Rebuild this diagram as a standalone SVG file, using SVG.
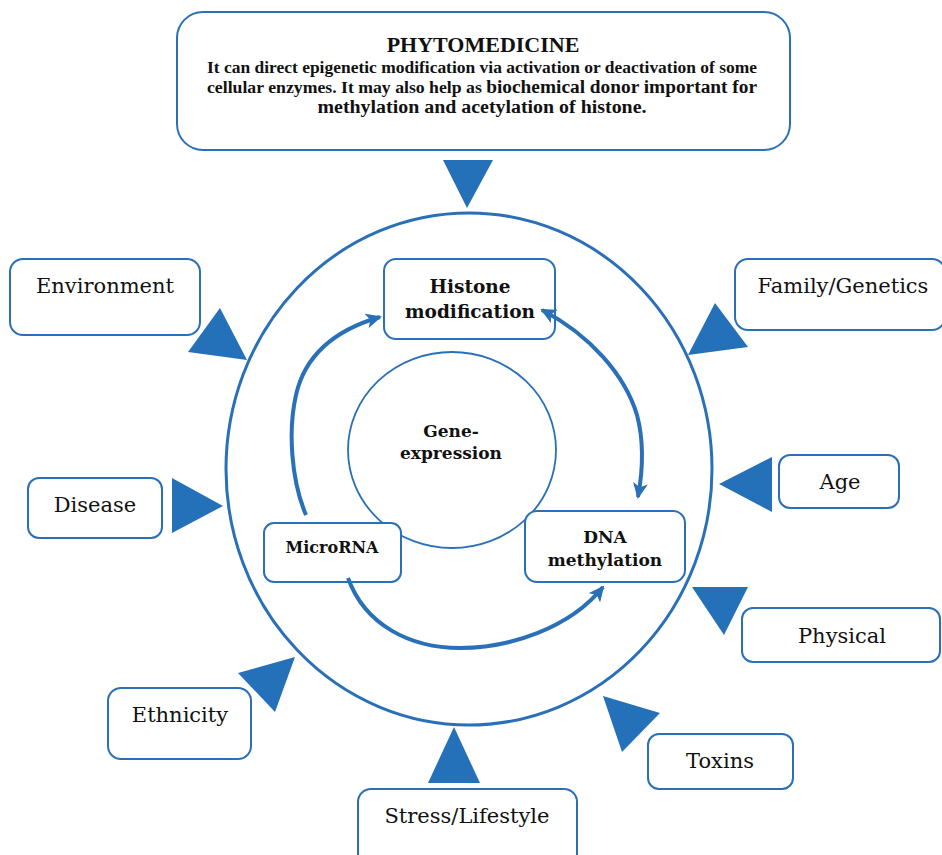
<svg xmlns="http://www.w3.org/2000/svg" width="942" height="855" viewBox="0 0 942 855">
<style>
.box{fill:#fff;stroke:#2a70b8;stroke-width:2}
.tri{fill:#2470b9}
.lbl{font-family:"DejaVu Serif","Liberation Serif",serif;font-size:21px;fill:#111;text-anchor:middle}
.bld{font-family:"DejaVu Serif","Liberation Serif",serif;font-weight:bold;fill:#111;text-anchor:middle}
.ph{font-family:"Liberation Serif",serif;font-weight:bold;fill:#111;text-anchor:middle}
.arc{fill:none;stroke:#2a70b8;stroke-width:4}
</style>
<defs>
<marker id="ah" markerUnits="userSpaceOnUse" markerWidth="17" markerHeight="15" refX="14" refY="7.5" orient="auto-start-reverse">
<path d="M0,0 L16,7.5 L0,15 L4,7.5 z" fill="#2a70b8"/>
</marker>
</defs>
<rect width="942" height="855" fill="#fff"/>

<g id="outer-ring">
<ellipse cx="469" cy="469" rx="243" ry="256" fill="none" stroke="#2a70b8" stroke-width="3"/>
</g>

<g id="phytomedicine">
<rect class="box" x="177" y="12" width="613" height="138" rx="26"/>
<text class="ph" x="483" y="52" font-size="22">PHYTOMEDICINE</text>
<text class="ph" x="482" y="73" font-size="16.5" textLength="550" lengthAdjust="spacingAndGlyphs">It can direct epigenetic modification via activation or deactivation of some</text>
<text class="ph" x="482" y="93" font-size="16.5" textLength="550" lengthAdjust="spacingAndGlyphs">cellular enzymes. It may also help as <tspan font-size="18">biochemical donor important for</tspan></text>
<text class="ph" x="482" y="113" font-size="18" textLength="329" lengthAdjust="spacingAndGlyphs">methylation and acetylation of histone.</text>
</g>

<g id="gene-expression">
<ellipse cx="452" cy="450" rx="104" ry="98" fill="#fff" stroke="#2a70b8" stroke-width="1.8"/>
<text class="bld" x="451" y="437" font-size="17">Gene-</text>
<text class="bld" x="451" y="459" font-size="17">expression</text>
</g>

<g id="histone">
<rect class="box" x="384" y="259" width="171" height="80" rx="12"/>
<text class="bld" x="470" y="293" font-size="18.5">Histone</text>
<text class="bld" x="470" y="318" font-size="18.5">modification</text>
</g>

<g id="microrna">
<rect class="box" x="264" y="523" width="137" height="59" rx="10"/>
<text class="bld" x="332" y="553" font-size="16">MicroRNA</text>
</g>

<g id="dna">
<rect class="box" x="525" y="511" width="160" height="71" rx="12"/>
<text class="bld" x="605" y="543" font-size="17">DNA</text>
<text class="bld" x="605" y="566" font-size="17">methylation</text>
</g>

<g id="environment">
<rect class="box" x="10" y="259" width="190" height="76" rx="13"/>
<text class="lbl" x="105" y="293">Environment</text>
</g>

<g id="family">
<rect class="box" x="735" y="259" width="210" height="71" rx="13"/>
<text class="lbl" x="843" y="293">Family/Genetics</text>
</g>

<g id="disease">
<rect class="box" x="28" y="478" width="134" height="60" rx="11"/>
<text class="lbl" x="95" y="512">Disease</text>
</g>

<g id="age">
<rect class="box" x="779" y="455" width="120" height="53" rx="11"/>
<text class="lbl" x="840" y="489">Age</text>
</g>

<g id="physical">
<rect class="box" x="742" y="608" width="198" height="54" rx="11"/>
<text class="lbl" x="842" y="643">Physical</text>
</g>

<g id="toxins">
<rect class="box" x="648" y="734" width="145" height="55" rx="11"/>
<text class="lbl" x="720" y="768">Toxins</text>
</g>

<g id="ethnicity">
<rect class="box" x="108" y="688" width="143" height="71" rx="13"/>
<text class="lbl" x="180" y="722">Ethnicity</text>
</g>

<g id="stress">
<rect class="box" x="358" y="789" width="219" height="80" rx="13"/>
<text class="lbl" x="467" y="823">Stress/Lifestyle</text>
</g>

<g id="connectors">
<path class="arc" d="M306,515 C291,480 288,430 296,395 C305,355 335,330 380,317" marker-end="url(#ah)"/>
<path class="arc" d="M542,310 C590,335 625,375 637,415 C645,445 642,475 638,497" marker-start="url(#ah)" marker-end="url(#ah)"/>
<path class="arc" d="M348,578 C365,625 410,648 460,648 C510,648 570,628 603,587" marker-end="url(#ah)"/>
<polygon class="tri" points="443,160 493,160 467,208"/>
<polygon class="tri" points="188,352 220,308 247,360"/>
<polygon class="tri" points="172,478 172,533 223,506"/>
<polygon class="tri" points="715,303 748,347 688,355"/>
<polygon class="tri" points="772,457 772,512 719,484"/>
<polygon class="tri" points="692,587 748,587 724,635"/>
<polygon class="tri" points="603,696 660,713 622,752"/>
<polygon class="tri" points="238,673 295,657 275,712"/>
<polygon class="tri" points="428,783 480,783 454,727"/>
</g>
</svg>
